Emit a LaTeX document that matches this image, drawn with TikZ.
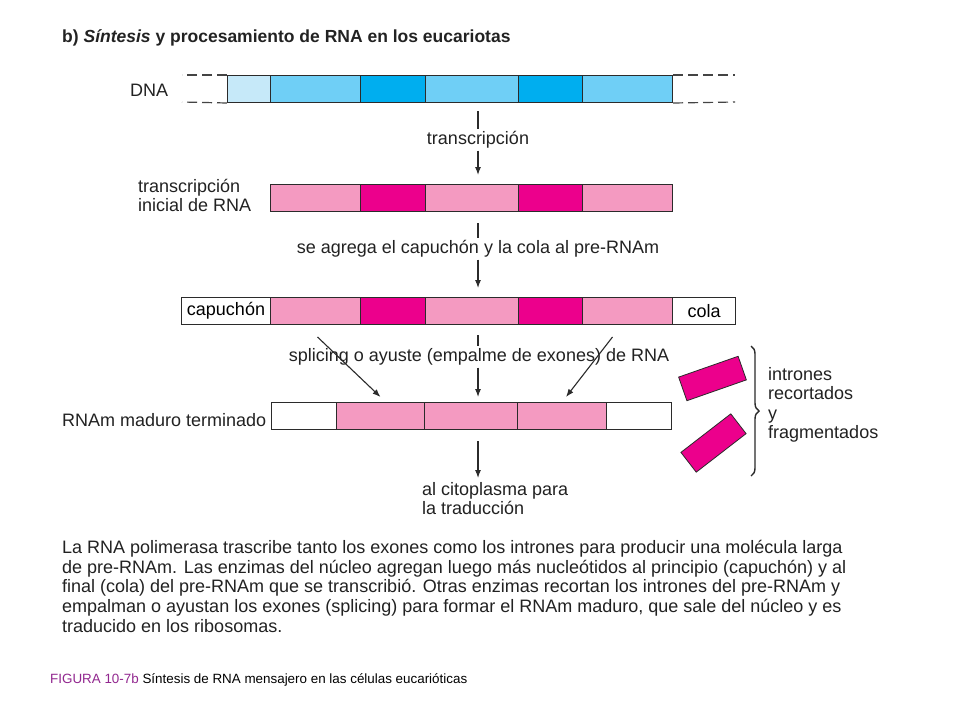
\documentclass[tikz,border=0pt]{standalone}
\usepackage{fontspec}
\setmainfont{Liberation Sans}
\usetikzlibrary{arrows.meta, decorations.pathreplacing}
\definecolor{dnapale}{HTML}{C6E9F9}
\definecolor{dnalight}{HTML}{6FCFF6}
\definecolor{dnadark}{HTML}{00AEEF}
\definecolor{rnalight}{HTML}{F49AC1}
\definecolor{rnadark}{HTML}{EC008C}
\definecolor{darkline}{HTML}{2B2B2B}
\definecolor{strandline}{HTML}{444444}
\definecolor{textgray}{HTML}{222222}
\definecolor{figpurple}{HTML}{92278F}
\tikzset{
  seg/.style={rectangle, draw=darkline, line width=1pt, minimum height=27pt, inner sep=0pt, anchor=north west, font=\fontsize{18}{20}\selectfont},
  dnapaleseg/.style={seg, fill=dnapale},
  dnalightseg/.style={seg, fill=dnalight},
  dnadarkseg/.style={seg, fill=dnadark},
  exonseg/.style={seg, fill=rnalight},
  intronseg/.style={seg, fill=rnadark},
  endseg/.style={seg, fill=white},
  intron/.style={rectangle, draw=darkline, line width=0.8pt, fill=rnadark, minimum width=63pt, minimum height=25pt, inner sep=0pt},
  label/.style={font=\fontsize{18}{20}\selectfont, text=textgray, align=left, inner sep=2pt},
  step-label/.style={font=\fontsize{18}{20}\selectfont, text=textgray, align=center, inner sep=2pt},
  flow/.style={-{Latex[length=8pt, width=6pt]}, line width=1.1pt, draw=darkline},
  stem/.style={line width=1.1pt, draw=darkline},
  strand/.style={dash pattern=on 10pt off 5pt, line width=1.2pt, draw=strandline}
}

\begin{document}
\begin{tikzpicture}[x=1pt, y=-1pt]

\useasboundingbox[fill=white] (0,0) rectangle (960,720);

\node[anchor=west, inner sep=0pt, text=textgray, font=\fontsize{17.5}{20}\selectfont\bfseries] (title) at (62,38) {b) \textit{Síntesis} y procesamiento de RNA en los eucariotas};

% DNA
\node[label, anchor=west] (dnalabel) at (128,90) {DNA};
\node[dnapaleseg, minimum width=43pt] (dna1) at (227,75) {};
\node[dnalightseg, minimum width=90pt] (dna2) at (270,75) {};
\node[dnadarkseg, minimum width=65pt] (dna3) at (360,75) {};
\node[dnalightseg, minimum width=93pt] (dna4) at (425,75) {};
\node[dnadarkseg, minimum width=64pt] (dna5) at (518,75) {};
\node[dnalightseg, minimum width=90pt] (dna6) at (582,75) {};
\coordinate (strandtopl) at (182,75);
\coordinate (strandbotl) at (182,102);
\coordinate (strandtopr) at (735,75);
\coordinate (strandbotr) at (735,102);

\node[step-label] (transcr) at (478,140) {transcripción};

% transcripcion inicial
\node[label, anchor=west] (rnalabel) at (136,195) {transcripción\\[-1pt]inicial de RNA};
\node[exonseg, minimum width=90pt] (rna1) at (270,184) {};
\node[intronseg, minimum width=65pt] (rna2) at (360,184) {};
\node[exonseg, minimum width=93pt] (rna3) at (425,184) {};
\node[intronseg, minimum width=64pt] (rna4) at (518,184) {};
\node[exonseg, minimum width=90pt] (rna5) at (582,184) {};

\node[step-label] (capping) at (478,249) {se agrega el capuchón y la cola al pre-RNAm};

% pre-RNAm
\node[endseg, minimum width=89pt] (pre1) at (181,297) {capuchón};
\node[exonseg, minimum width=90pt] (pre2) at (270,297) {};
\node[intronseg, minimum width=65pt] (pre3) at (360,297) {};
\node[exonseg, minimum width=93pt] (pre4) at (425,297) {};
\node[intronseg, minimum width=64pt] (pre5) at (518,297) {};
\node[exonseg, minimum width=90pt] (pre6) at (582,297) {};
\node[endseg, minimum width=63pt] (pre7) at (672,297) {cola};

\node[step-label] (splicing) at (479,357) {splicing o ayuste (empalme de exones) de RNA};

% RNAm maduro
\node[label, anchor=west] (matlabel) at (60,420) {RNAm maduro terminado};
\node[endseg, minimum width=65pt] (mat1) at (271,402) {};
\node[exonseg, minimum width=88pt] (mat2) at (336,402) {};
\node[exonseg, minimum width=93pt] (mat3) at (424,402) {};
\node[exonseg, minimum width=89pt] (mat4) at (517,402) {};
\node[endseg, minimum width=65pt] (mat5) at (606,402) {};

\node[label, anchor=north west] (cyto) at (420,480) {al citoplasma para\\[-1pt]la traducción};

% intrones
\node[intron, rotate=19.3] (intron1) at (712.5,378.5) {};
\node[intron, rotate=37.7] (intron2) at (713.5,443) {};
\coordinate (bracetop) at (751,346);
\coordinate (bracebot) at (751,476);
\node[label, anchor=west] (intronlabel) at (766,405) {intrones\\[-0.5pt]recortados\\[-0.5pt]y\\[-0.5pt]fragmentados};

\node[label, anchor=north west, font=\fontsize{18}{19.75}\selectfont] (summary) at (60,538) {La RNA polimerasa trascribe tanto los exones como los intrones para producir una molécula larga\\
de pre-RNAm. Las enzimas del núcleo agregan luego más nucleótidos al principio (capuchón) y al\\
final (cola) del pre-RNAm que se transcribió. Otras enzimas recortan los intrones del pre-RNAm y\\
empalman o ayustan los exones (splicing) para formar el RNAm maduro, que sale del núcleo y es\\
traducido en los ribosomas.};

\node[anchor=west, inner sep=0pt, font=\fontsize{13.4}{15}\selectfont] (caption) at (50,680) {\textcolor{figpurple}{FIGURA 10-7b} Síntesis de RNA mensajero en las células eucarióticas};

\draw[strand] (dna1.north west) -- (strandtopl);
\draw[strand] (dna1.south west) -- (strandbotl);
\draw[strand] (dna6.north east) -- (strandtopr);
\draw[strand] (dna6.south east) -- (strandbotr);
\draw[stem, shorten <=8pt] (transcr.north |- dna4.south) -- (transcr.north);
\draw[flow, shorten >=9pt] (transcr.south) -- (transcr.south |- rna3.north);
\draw[stem, shorten <=11pt] (capping.north |- rna3.south) -- (capping.north);
\draw[flow, shorten >=9pt] (capping.south) -- (capping.south |- pre4.north);
\draw[stem, shorten <=10pt] (transcr |- pre4.south) -- (transcr |- splicing.north);
\draw[flow, shorten >=5pt] (transcr |- splicing.south) -- (transcr |- mat3.north);
\draw[flow] ([xshift=2pt, yshift=-12pt]pre2.south) -- ([yshift=5pt]mat2.north);
\draw[flow] ([xshift=-15pt, yshift=-12pt]pre6.south) -- ([xshift=4pt, yshift=5pt]mat4.north);
\draw[flow, shorten <=11pt, shorten >=2pt] (transcr |- mat3.south) -- (transcr |- cyto.north);
\draw[line width=1.4pt, draw=darkline, decorate, decoration={brace, amplitude=8pt}] (bracetop) -- (bracebot);

\end{tikzpicture}
\end{document}
